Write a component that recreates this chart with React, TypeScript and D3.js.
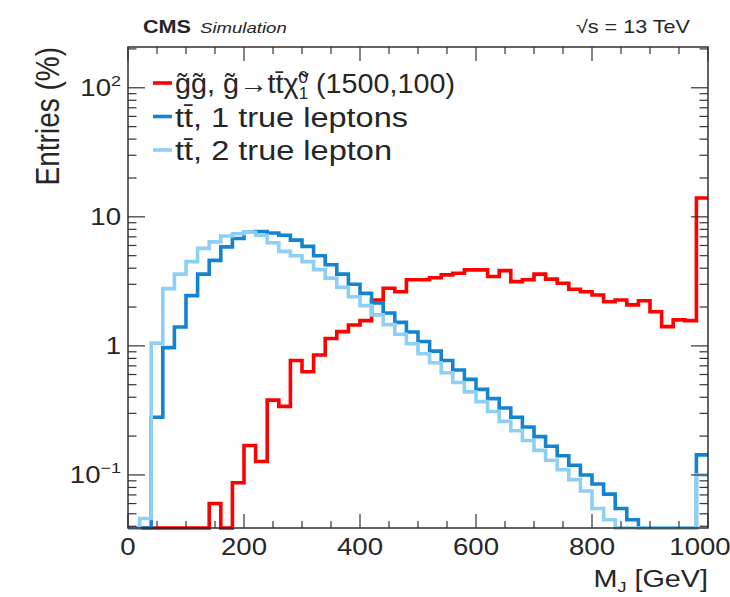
import React from 'react';
import * as d3 from 'd3';

// Bin lower edges (GeV), 20 GeV bins, last bin holds overflow
const binEdges = [
  0, 20, 40, 60, 80, 100, 120, 140, 160, 180,
  200, 220, 240, 260, 280, 300, 320, 340, 360, 380,
  400, 420, 440, 460, 480, 500, 520, 540, 560, 580,
  600, 620, 640, 660, 680, 700, 720, 740, 760, 780,
  800, 820, 840, 860, 880, 900, 920, 940, 960, 980,
];

// Entries (%) per bin
const gluinoValues = [
  0.01, 0.01, 0.01, 0.01, 0.01, 0.01, 0.01, 0.06, 0.01, 0.087,
  0.169, 0.127, 0.38, 0.34, 0.77, 0.63, 0.85, 1.14, 1.29, 1.45,
  1.57, 2.27, 2.8, 2.63, 3.25, 3.25, 3.37, 3.55, 3.65, 3.88,
  3.88, 3.45, 3.83, 3.15, 3.25, 3.6, 3.29, 3.06, 2.75, 2.63,
  2.48, 2.2, 2.27, 2.08, 2.24, 1.84, 1.41, 1.59, 1.57, 14.0,
];

const ttbar1LepValues = [
  0.01, 0.01, 0.28, 0.97, 1.4, 2.45, 3.6, 4.6, 5.85, 6.8,
  7.6, 7.7, 7.5, 7.2, 6.6, 5.9, 5.0, 4.25, 3.6, 3.0,
  2.55, 2.15, 1.8, 1.52, 1.28, 1.08, 0.91, 0.77, 0.65, 0.55,
  0.46, 0.39, 0.33, 0.28, 0.235, 0.198, 0.167, 0.141, 0.119, 0.1,
  0.085, 0.071, 0.055, 0.045, 0.01, 0.01, 0.01, 0.01, 0.01, 0.143,
];

const ttbar2LepValues = [
  0.01, 0.046, 1.05, 2.78, 3.6, 4.5, 5.7, 6.4, 7.1, 7.4,
  7.6, 7.2, 6.3, 5.4, 5.0, 4.5, 3.9, 3.35, 2.85, 2.4,
  2.05, 1.74, 1.46, 1.23, 1.04, 0.87, 0.74, 0.62, 0.52, 0.44,
  0.37, 0.31, 0.26, 0.22, 0.185, 0.155, 0.13, 0.11, 0.092, 0.075,
  0.055, 0.045, 0.01, 0.01, 0.01, 0.01, 0.01, 0.01, 0.01, 0.10,
];

const xMajorTicks = [0, 200, 400, 600, 800, 1000];
const xMinorTicks = [50, 100, 150, 250, 300, 350, 450, 500, 550, 650, 700, 750, 850, 900, 950];
const yMajorTicks = [0.1, 1, 10, 100];
const yTickLabels = [
  { v: 0.1, base: '10', sup: '\u22121' },
  { v: 1, base: '1', sup: '' },
  { v: 10, base: '10', sup: '' },
  { v: 100, base: '10', sup: '2' },
];
const yMinorTicks = [
  0.04, 0.05, 0.06, 0.07, 0.08, 0.09,
  0.2, 0.3, 0.4, 0.5, 0.6, 0.7, 0.8, 0.9,
  2, 3, 4, 5, 6, 7, 8, 9,
  20, 30, 40, 50, 60, 70, 80, 90, 200,
];

const WIDTH = 730;
const HEIGHT = 597;
const plot = { left: 128, right: 708, top: 47, bottom: 528 };
const X_MAX = 1000;
const Y_MIN = 0.0388;
const Y_MAX = 207;

const RED = '#ff0000';
const DARK_BLUE = '#1584cf';
const LIGHT_BLUE = '#8dcff5';
const FONT = '"Liberation Sans", Arial, Helvetica, sans-serif';
const SX = 1.2;
const TEXT = '#262626';

export default function App() {
  const x = d3.scaleLinear().domain([0, X_MAX]).range([plot.left, plot.right]);
  const y = d3.scaleLog().domain([Y_MIN, Y_MAX]).range([plot.bottom, plot.top]);

  const stepPath = (vals: number[]) => {
    const pts: [number, number][] = vals.map((v, i) => [x(binEdges[i]), y(Math.max(v, Y_MIN))]);
    pts.push([x(X_MAX), y(Math.max(vals[vals.length - 1], Y_MIN))]);
    return d3.line().curve(d3.curveStepAfter)(pts) || '';
  };

  const series = [
    { vals: gluinoValues, color: RED },
    { vals: ttbar1LepValues, color: DARK_BLUE },
    { vals: ttbar2LepValues, color: LIGHT_BLUE },
  ];

  const tickColor = '#333';
  const majY = 17, minY = 8.5, majX = 14, minX = 7;

  const legendRows = [
    { color: RED, base: 93, len: 280 },
    { color: DARK_BLUE, base: 126.5, len: 233 },
    { color: LIGHT_BLUE, base: 160, len: 217 },
  ];

  // keep the last x label inside the page
  const xLabelPos = (v: number) => Math.min(x(v), WIDTH - 30);

  return (
    <svg width={WIDTH} height={HEIGHT} style={{ position: 'absolute', left: 0, top: 0, background: '#fff' }}
      fontFamily={FONT}>
      <rect x={0} y={0} width={WIDTH} height={HEIGHT} fill="#fff" />

      {/* histograms */}
      {series.map((s, i) => (
        <path key={i} d={stepPath(s.vals)} fill="none" stroke={s.color} strokeWidth={3.6}
          strokeLinejoin="miter" />
      ))}

      {/* frame */}
      <rect x={plot.left} y={plot.top} width={plot.right - plot.left} height={plot.bottom - plot.top}
        fill="none" stroke="#222" strokeWidth={1.4} />

      {/* y ticks (left + right) */}
      {yMajorTicks.map((v) => (
        <g key={'ym' + v}>
          <line x1={plot.left} x2={plot.left + majY} y1={y(v)} y2={y(v)} stroke={tickColor} strokeWidth={1.2} />
          <line x1={plot.right} x2={plot.right - majY} y1={y(v)} y2={y(v)} stroke={tickColor} strokeWidth={1.2} />
        </g>
      ))}
      {yMinorTicks.filter((v) => v > Y_MIN && v < Y_MAX).map((v) => (
        <g key={'yn' + v}>
          <line x1={plot.left} x2={plot.left + minY} y1={y(v)} y2={y(v)} stroke={tickColor} strokeWidth={1.2} />
          <line x1={plot.right} x2={plot.right - minY} y1={y(v)} y2={y(v)} stroke={tickColor} strokeWidth={1.2} />
        </g>
      ))}

      {/* x ticks (bottom + top) */}
      {xMajorTicks.map((v) => (
        <g key={'xm' + v}>
          <line x1={x(v)} x2={x(v)} y1={plot.bottom} y2={plot.bottom - majX} stroke={tickColor} strokeWidth={1.2} />
          <line x1={x(v)} x2={x(v)} y1={plot.top} y2={plot.top + majX} stroke={tickColor} strokeWidth={1.2} />
        </g>
      ))}
      {xMinorTicks.map((v) => (
        <g key={'xn' + v}>
          <line x1={x(v)} x2={x(v)} y1={plot.bottom} y2={plot.bottom - minX} stroke={tickColor} strokeWidth={1.2} />
          <line x1={x(v)} x2={x(v)} y1={plot.top} y2={plot.top + minX} stroke={tickColor} strokeWidth={1.2} />
        </g>
      ))}

      {/* y tick labels */}
      {yTickLabels.map((t) => (
        <text key={'yl' + t.v} transform={`translate(121,${y(t.v) + 8.5}) scale(${SX},1)`}
          textAnchor="end" fontSize={23} fill={TEXT}>
          {t.base}
          {t.sup ? <tspan dy={-10} fontSize={15}>{t.sup}</tspan> : null}
        </text>
      ))}

      {/* x tick labels */}
      {xMajorTicks.map((v) => (
        <text key={'xl' + v} transform={`translate(${xLabelPos(v)},555) scale(${SX},1)`}
          textAnchor="middle" fontSize={23} fill={TEXT}>{v}</text>
      ))}

      {/* axis titles */}
      <text transform={`translate(708,587) scale(${SX},1)`} textAnchor="end" fontSize={24} fill={TEXT}>
        M<tspan dy={5} fontSize={15}>J</tspan><tspan dy={-5}> [GeV]</tspan>
      </text>
      <text transform={`translate(59,47) scale(${SX},1) rotate(-90)`} textAnchor="end" fontSize={28} fill={TEXT}>
        Entries (%)
      </text>

      {/* header */}
      <text transform={`translate(143,33) scale(${SX},1)`} fontSize={18} fontWeight="bold" fill={TEXT}>CMS</text>
      <text transform={`translate(200,33) scale(${SX},1)`} fontSize={15.5} fontStyle="italic" fill={TEXT}>Simulation</text>
      <text transform={`translate(690,33) scale(${SX},1)`} textAnchor="end" fontSize={18} fill={TEXT}>
        {'\u221As = 13 TeV'}
      </text>

      {/* legend */}
      {legendRows.map((r, i) => (
        <line key={'lg' + i} x1={153} x2={172} y1={r.base - 10} y2={r.base - 10} stroke={r.color} strokeWidth={3.6} />
      ))}
      <text x={175} y={legendRows[0].base} fontSize={27} fill={TEXT} textLength={legendRows[0].len}
        lengthAdjust="spacingAndGlyphs">
        {'g\u0303g\u0303, g\u0303\u2192tt\u0304\u03C7\u0303'}
        <tspan dy={6} fontSize={16}>1</tspan>
        <tspan dx={-9} dy={-16} fontSize={16}>0</tspan>
        <tspan dy={10}>{' (1500,100)'}</tspan>
      </text>
      <text x={175} y={legendRows[1].base} fontSize={27} fill={TEXT} textLength={legendRows[1].len}
        lengthAdjust="spacingAndGlyphs">
        {'tt\u0304, 1 true leptons'}
      </text>
      <text x={175} y={legendRows[2].base} fontSize={27} fill={TEXT} textLength={legendRows[2].len}
        lengthAdjust="spacingAndGlyphs">
        {'tt\u0304, 2 true lepton'}
      </text>
    </svg>
  );
}
